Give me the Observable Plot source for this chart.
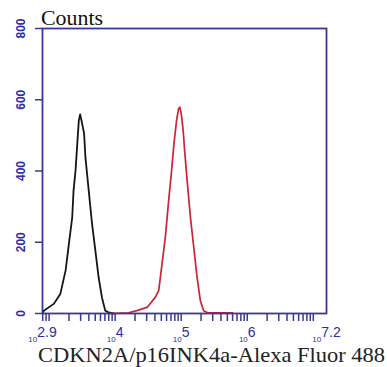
<!DOCTYPE html>
<html><head><meta charset="utf-8">
<script src="https://cdn.jsdelivr.net/npm/d3@7"></script>
<script src="https://cdn.jsdelivr.net/npm/@observablehq/plot@0.6"></script>
<style>body{margin:0;background:#fff}</style>
</head><body><div id="chart"></div>
<script>
// log10 fluorescence vs counts
const blackLog   = [2.91, 2.92, 3.07, 3.17, 3.25, 3.30, 3.35, 3.37, 3.40, 3.43, 3.45, 3.47, 3.49, 3.53, 3.55, 3.60, 3.65, 3.70, 3.75, 3.80, 3.85, 3.90, 3.98];
const blackCount = [3,    8,    27,   55,   121,  196,  270,  345,  401,  486,  542,  559,  542,  505,  438,  345,  252,  177,  101,  45,   8,    3,    0];
const redLog     = [3.93, 4.20, 4.33, 4.49, 4.61, 4.66, 4.71, 4.76, 4.81, 4.85, 4.89, 4.93, 4.96, 4.98, 5.00, 5.03, 5.05, 5.09, 5.14, 5.19, 5.24, 5.29, 5.34, 5.40, 5.78];
const redCount   = [0,    2,    8,    18,   46,   65,   140,  214,  317,  392,  476,  542,  575,  579,  561,  514,  462,  373,  270,  186,  102,  36,   8,    2,    2];
const yTicks = [0, 200, 400, 600, 800];
const xLabelExps = ["2.9", "4", "5", "6", "7.2"];
const xDomain = [2.9, 7.2];
const minorMultipliers = [1, 2, 3, 4, 5, 6, 7, 8, 9];
const decades = [2, 3, 4, 5, 6, 7];

const black = blackLog.map((v, i) => ({x: v, y: blackCount[i]}));
const red = redLog.map((v, i) => ({x: v, y: redCount[i]}));
const minor = [];
for (const d of decades) for (const m of minorMultipliers) {
  const v = d + Math.log10(m);
  if (v >= xDomain[0] - 1e-9 && v <= xDomain[1] + 1e-9) minor.push(v);
}
const navy = "#3a3890";
const blue = "#2c2ca8";

const plot = Plot.plot({
  width: 387, height: 367,
  marginLeft: 42, marginRight: 61, marginTop: 28, marginBottom: 54,
  style: {background: "#fff", fontFamily: "Liberation Sans, Arial, sans-serif"},
  x: {domain: xDomain},
  y: {domain: [0, 800]},
  marks: [
    Plot.axisY(yTicks, {tickSize: 7, stroke: navy, strokeWidth: 1.5, tickFormat: () => "", label: null}),
    Plot.text(yTicks, {y: d => d, text: d => String(d), frameAnchor: "left", dx: -21, rotate: -90, textAnchor: "middle", lineAnchor: "middle", fill: blue, fontSize: 12, fontWeight: "bold", ariaLabel: "ylab"}),
    Plot.axisX(minor, {tickSize: 8, stroke: navy, strokeWidth: 1.5, tickFormat: () => "", label: null}),
    Plot.text(xLabelExps, {x: d => +d, text: d => "10" + d, frameAnchor: "bottom", dy: 26, fill: blue, fontSize: 13, textAnchor: "middle", className: "xlab"}),
    Plot.line(black, {x: "x", y: "y", stroke: "#151515", strokeWidth: 1.8}),
    Plot.line(red, {x: "x", y: "y", stroke: "#cc2430", strokeWidth: 1.7}),
    Plot.frame({stroke: navy, strokeWidth: 1.8})
  ]
});
document.getElementById("chart").appendChild(plot);

const svg = d3.select(plot);
const textGroups = svg.selectAll('g[aria-label="text"]').nodes();
const xGroup = textGroups[textGroups.length - 1];
d3.select(xGroup).selectAll("text").each(function(d, i) {
  const t = d3.select(this);
  const exp = xLabelExps[i];
  t.text(null);
  t.append("tspan").attr("font-size", 8).attr("dy", "0.25em").text("10");
  t.append("tspan").attr("font-size", 14).attr("dy", "-0.3em").text(exp);
});
svg.append("text").attr("x", 41).attr("y", 25).attr("text-anchor", "start")
  .attr("font-family", "Liberation Serif, Times New Roman, serif").attr("font-size", 20)
  .attr("textLength", 62).attr("lengthAdjust", "spacingAndGlyphs").attr("fill", "#111").text("Counts");
svg.append("text").attr("x", 38).attr("y", 362).attr("text-anchor", "start")
  .attr("font-family", "Liberation Serif, Times New Roman, serif").attr("font-size", 22)
  .attr("textLength", 347).attr("lengthAdjust", "spacingAndGlyphs").attr("fill", "#222").text("CDKN2A/p16INK4a-Alexa Fluor 488");
</script></body></html>
